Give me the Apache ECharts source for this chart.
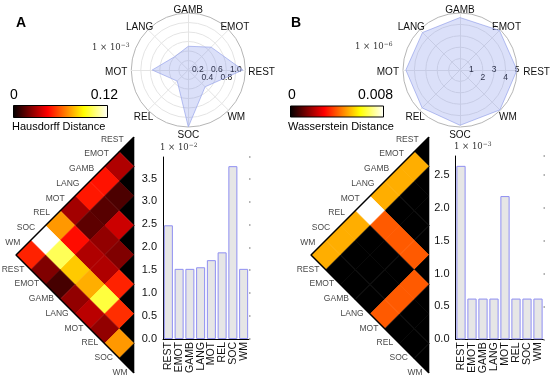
<!DOCTYPE html>
<html><head><meta charset="utf-8">
<script src="https://cdn.jsdelivr.net/npm/echarts@6/dist/echarts.min.js"></script>
<style>html,body{margin:0;padding:0;background:#fff}#c{width:550px;height:380px}</style>
</head><body><div id="c"></div>
<script>
// ---------------- data ----------------
const regions = ['REST','EMOT','GAMB','LANG','MOT','REL','SOC','WM'];
// lower triangles (row a = 1..7, columns b = 0..a-1)
const hausdorffLower = [
  [0.030],
  [0.047, 0.013],
  [0.048, 0.015, 0.035],
  [0.028, 0.016, 0.025, 0.022],
  [0.071, 0.046, 0.030, 0.030, 0.050],
  [0.120, 0.100, 0.080, 0.075, 0.097, 0.052],
  [0.050, 0.022, 0.012, 0.025, 0.032, 0.025, 0.071]
];
const wassersteinLower = [
  [0.005],
  [0.005, 0],
  [0.005, 0, 0],
  [0.008, 0.004, 0.004, 0.004],
  [0.005, 0, 0, 0, 0.004],
  [0.005, 0, 0, 0, 0.004, 0],
  [0.005, 0, 0, 0, 0.004, 0, 0]
];
const radarA = [1.15, 0.68, 0.50, 0.40, 0.76, 0.33, 1.20, 0.50];   // x 1e-3
const radarB = [5.0, 4.9, 4.6, 4.65, 4.75, 4.7, 4.85, 4.95];       // x 1e-6
const barA = [2.48, 1.53, 1.53, 1.565, 1.72, 1.89, 3.77, 1.53];    // x 1e-2
const barB = [2.64, 0.62, 0.62, 0.62, 2.18, 0.62, 0.62, 0.62];     // x 1e-3
const radarMaxA = 1.2, radarMaxB = 5;
const barMaxA = 3.97, barMaxB = 2.79;
const hausdorffMax = 0.12, wassersteinMax = 0.008;

// ---------------- helpers ----------------
const FONT = "'Liberation Sans', Arial, sans-serif";
const SERIF = "'DejaVu Serif', 'Liberation Serif', serif";
function hot(t){
  const r = Math.min(1, t/0.365), g = Math.min(1, Math.max(0,(t-0.365)/0.381)), b = Math.min(1, Math.max(0,(t-0.746)/0.254));
  return 'rgb(' + Math.round(r*255) + ',' + Math.round(g*255) + ',' + Math.round(b*255) + ')';
}
const hotColors = []; for (let i=0;i<=40;i++) hotColors.push(hot(i/40));
const hotStops = [{offset:0,color:'#000'},{offset:0.365,color:'#f00'},{offset:0.746,color:'#ff0'},{offset:1,color:'#fff'}];

function tri(lower){
  const out = [];
  for (let a=0;a<regions.length;a++) for (let b=0;b<=a;b++) out.push([a,b, a===b ? 0 : lower[a-1][b]]);
  return out;
}
function renderDiamond(params, api){
  const a = api.value(0), b = api.value(1);
  const X = 8 - a + b, Y = a + b - 7;
  const pts = a === b ? [[X-1,Y],[X,Y-1],[X,Y+1]] : [[X-1,Y],[X,Y-1],[X+1,Y],[X,Y+1]];
  const c = api.visual('color');
  return {type:'polygon', shape:{points: pts.map(p=>api.coord(p))}, style:{fill:c, stroke:c, lineWidth:0.6}};
}

const grids = [
  {left:16, top:137, width:118, height:236},
  {left:163, top:157, width:86, height:182},
  {left:311, top:137, width:118, height:236},
  {left:455.5, top:156, width:88, height:183.3}
];
const xAxes = [], yAxes = [], series = [];
function heatAxes(g){
  xAxes.push({gridIndex:g, type:'value', min:0, max:8, show:false});
  yAxes.push({gridIndex:g, type:'value', min:-8, max:8, inverse:true, show:false});
}
function heatSeries(g, lower){
  const ai = xAxes.length-1, yi = yAxes.length-1;
  series.push({type:'custom', xAxisIndex:ai, yAxisIndex:yi, renderItem:renderDiamond, data:tri(lower), encode:{x:0,y:1}, silent:true});
  series.push({type:'line', xAxisIndex:ai, yAxisIndex:yi, data:[[8,-8],[0,0],[8,8]], symbol:'none', lineStyle:{color:'#000', width:1.5}, z:5, silent:true});
  series.push({type:'scatter', xAxisIndex:ai, yAxisIndex:yi, symbolSize:0, silent:true,
    data: regions.map((r,a)=>({name:r, value:[7.5-a, a-7.5]})),
    label:{show:true, formatter:'{b}', position:[0,0], align:'right', verticalAlign:'middle', offset:[-3,-5], fontSize:8.5, fontFamily:FONT, color:'#111'}});
  series.push({type:'scatter', xAxisIndex:ai, yAxisIndex:yi, symbolSize:0, silent:true,
    data: regions.map((r,b)=>({name:r, value:[b+0.5, b+0.5]})),
    label:{show:true, formatter:'{b}', position:[0,0], align:'right', verticalAlign:'middle', offset:[1,7], fontSize:8.5, fontFamily:FONT, color:'#111'}});
}
function barAxes(g, max, vals){
  xAxes.push({gridIndex:g, type:'category', data:regions, position:'bottom',
    axisLine:{lineStyle:{color:'#000', width:1}}, axisTick:{show:false},
    axisLabel:{rotate:90, fontSize:10.5, fontFamily:FONT, color:'#111', margin:3, interval:0}});
  const xi = xAxes.length-1;
  xAxes.push({gridIndex:g, type:'category', data:regions, position:'top',
    axisLine:{show:false}, axisLabel:{show:false},
    axisTick:{show:true, alignWithLabel:true, length:1.5, lineStyle:{color:'#999', width:1.5}}});
  yAxes.push({gridIndex:g, type:'value', min:0, max:max, interval:0.5,
    axisLine:{show:true, lineStyle:{color:'#000', width:1}}, axisTick:{show:false}, splitLine:{show:false},
    axisLabel:{fontSize:11, fontFamily:FONT, color:'#111', margin:6, showMaxLabel:false, formatter:v=>v.toFixed(1)}});
  const yi = yAxes.length-1;
  yAxes.push({gridIndex:g, type:'value', min:0, max:max, interval:0.5, position:'right',
    axisLine:{show:false}, axisLabel:{show:false}, splitLine:{show:false},
    axisTick:{show:true, length:1.5, lineStyle:{color:'#999', width:1.5}}});
  series.push({type:'bar', xAxisIndex:xi, yAxisIndex:yi, data:vals, barCategoryGap:'16%',
    itemStyle:{color:'#e6e6e6', borderColor:'#8f8ff2', borderWidth:1}, silent:true});
}
heatAxes(0); heatSeries(0, hausdorffLower);
barAxes(1, barMaxA, barA);
heatAxes(2); const heatBIdx = series.length; heatSeries(2, wassersteinLower);
barAxes(3, barMaxB, barB);

// per-direction paddings so the names sit centred round the circle
const namePad = {
  REST:[4,0,0,16], EMOT:[0,0,24,1], GAMB:[0,0,11,0], LANG:[0,4,24,0],
  MOT:[4,17,0,0], REL:[32,4,0,0], SOC:[16,0,0,0], WM:[32,0,0,8]
};
const nameRich = {};
regions.forEach(r => { nameRich[r] = {fontSize:10, fontFamily:FONT, color:'#111', padding:namePad[r]}; });

function radarCfg(cx, max, split, labelFmt){
  const ringColors = []; for (let i=0;i<split;i++) ringColors.push('#e4e4e4'); ringColors.push('#b5b5b5');
  return {
    center:[cx,70], radius:57, startAngle:0, shape:'circle', splitNumber:split,
    indicator: regions.map((r,i)=> i===0 ? {name:r, min:0, max:max,
       axisLabel:{show:true, margin:-12, fontSize:8.5, fontFamily:FONT, color:'#111', formatter:labelFmt,
         rich:{u:{fontSize:8.5, fontFamily:FONT, color:'#111', padding:[0,0,8,0]}, d:{fontSize:8.5, fontFamily:FONT, color:'#111'}}}}
       : {name:r, min:0, max:max}),
    axisName:{color:'#111', fontSize:10, fontFamily:FONT, formatter:(n)=>'{' + n + '|' + n + '}', rich:nameRich},
    axisNameGap:-13,
    splitLine:{lineStyle:{color:ringColors, width:1}},
    splitArea:{show:false},
    axisLine:{lineStyle:{color:'#e4e4e4'}},
    axisTick:{show:false},
    axisLabel:{show:false}
  };
}
function fmtA(v){ const k = Math.round(v/0.2); if (k<=0 || k>=6) return ''; return (k%2 ? '{u|' : '{d|') + (k*0.2).toFixed(1) + '}'; }
function fmtB(v){ const k = Math.round(v); if (k<=0) return ''; return (k%2 ? '{u|' : '{d|') + k + '}'; }
const radars = [radarCfg(188.3, radarMaxA, 6, fmtA), radarCfg(460, radarMaxB, 5, fmtB)];
series.push({type:'radar', radarIndex:0, symbol:'none', silent:true, data:[{value:radarA}],
  lineStyle:{color:'#aab4ee', width:0.8}, areaStyle:{color:'rgba(110,130,230,0.25)', opacity:1}});
series.push({type:'radar', radarIndex:1, symbol:'none', silent:true, data:[{value:radarB}],
  lineStyle:{color:'#aab4ee', width:0.8}, areaStyle:{color:'rgba(110,130,230,0.25)', opacity:1}});

function sci(x, y, exp){
  return {type:'text', x:x, y:y, style:{text:'{m|1 × 10}{e|−' + exp + '}', rich:{m:{fontFamily:SERIF, fontSize:8.5, fill:'#333'}, e:{fontFamily:SERIF, fontSize:6, fill:'#333', padding:[0,0,6,0]}}, textVerticalAlign:'middle'}};
}
const graphic = [
  {type:'text', x:16, y:16, style:{text:'A', font:"bold 14px " + FONT, fill:'#000'}},
  {type:'text', x:291, y:16, style:{text:'B', font:"bold 14px " + FONT, fill:'#000'}},
  {type:'rect', shape:{x:13.5, y:105.5, width:94, height:12}, style:{fill:new echarts.graphic.LinearGradient(0,0,1,0,hotStops), stroke:'#000', lineWidth:1}},
  {type:'text', x:10, y:88, style:{text:'0', font:"14px " + FONT, fill:'#000'}},
  {type:'text', x:118, y:88, style:{text:'0.12', font:"14px " + FONT, fill:'#000', textAlign:'right'}},
  {type:'text', x:12, y:121, style:{text:'Hausdorff Distance', font:"11px " + FONT, fill:'#000'}},
  {type:'rect', shape:{x:290.5, y:106, width:93, height:11}, style:{fill:new echarts.graphic.LinearGradient(0,0,1,0,hotStops), stroke:'#000', lineWidth:1}},
  {type:'text', x:288, y:88, style:{text:'0', font:"14px " + FONT, fill:'#000'}},
  {type:'text', x:393, y:88, style:{text:'0.008', font:"14px " + FONT, fill:'#000', textAlign:'right'}},
  {type:'text', x:288, y:121, style:{text:'Wasserstein Distance', font:"11px " + FONT, fill:'#000'}},
  sci(92, 48, 3), sci(355, 47, 6), sci(160, 148, 2), sci(454, 147, 3)
];

const chart = echarts.init(document.getElementById('c'), null, {renderer:'canvas'});
chart.setOption({
  animation:false,
  grid:grids, xAxis:xAxes, yAxis:yAxes, radar:radars, series:series, graphic:graphic,
  visualMap:[
    {type:'continuous', show:false, seriesIndex:0, dimension:2, min:0, max:hausdorffMax, inRange:{color:hotColors}},
    {type:'continuous', show:false, seriesIndex:heatBIdx, dimension:2, min:0, max:wassersteinMax, inRange:{color:hotColors}}
  ]
});
</script></body></html>
